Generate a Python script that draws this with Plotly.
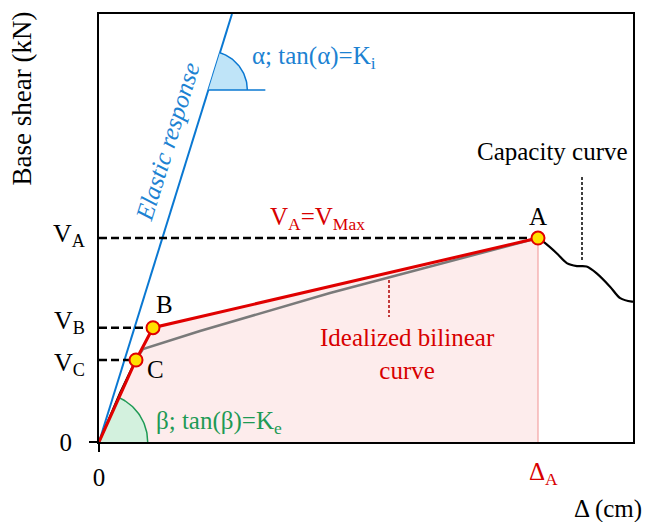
import numpy as np
import plotly.graph_objects as go

# ---------------- data (arbitrary units 0..100) ----------------
bilinear_x = [0, 6.93, 10.11, 82.21]          # O, C, B, A
bilinear_y = [0, 19.16, 26.71, 47.66]
point_names = ["C", "B", "A"]

capacity_x = [0, 2.06, 3.93, 5.81, 7.12, 8.24, 18.91, 28.28, 37.64, 43.26, 56.37, 65.73,
              75.09, 82.21, 83.5, 85.7, 87.6, 89.5, 91.3, 93.2, 95.7, 97.6, 99.8, 100]
capacity_y = [0, 6.07, 11.45, 16.36, 19.63, 21.73, 25.93, 29.32, 32.71, 34.81, 39.14, 42.22,
              45.33, 47.66, 46.5, 44.1, 41.8, 41.1, 41.0, 39.4, 36.3, 33.6, 32.8, 32.8]
cap_black_end = 4      # capacity curve drawn black up to this index
cap_peak = 13          # index of point A on the capacity curve

elastic_x = [0, 24.9]
elastic_y = [0, 100]

alpha_vertex_y = 82.24
y_tick_names = ["V<sub>C</sub>", "V<sub>B</sub>", "V<sub>A</sub>"]

# ---------------- layout constants ----------------
W, H = 649, 522
ML, MR, MT, MB = 99, 16, 14, 80
PW, PH = W - ML - MR, H - MT - MB
sx, sy = PW / 100.0, PH / 100.0

FONT = "Liberation Serif"
FS = 25
RED = "#E00000"
RED_T = "#D80000"
BLUE = "#0A78D2"
BLUE_T = "#1C82D2"
GREEN = "#1E9A55"
BLACK = "#000000"


def px2x(px):
    return (px - ML) / sx


def py2y(py):
    return (MT + PH - py) / sy


def px2p(px):
    return (px - ML) / PW


def py2p(py):
    return (MT + PH - py) / PH


def sector(cx, cy, r, a0, a1, n=40):
    th = np.linspace(a0, a1, n)
    return cx + r * np.cos(th) / sx, cy + r * np.sin(th) / sy


fig = go.Figure()

# pink area under idealized curve
fig.add_trace(go.Scatter(x=bilinear_x, y=bilinear_y, mode="lines", fill="tozeroy",
                         fillcolor="rgba(250,200,200,0.35)", line=dict(width=0),
                         hoverinfo="skip", showlegend=False))
# thin vertical at Delta_A
fig.add_trace(go.Scatter(x=[bilinear_x[3], bilinear_x[3]], y=[0, bilinear_y[3]], mode="lines",
                         line=dict(color="#F3A3A3", width=1.2), showlegend=False))

# beta sector (green)
b_ang = np.arctan2(bilinear_y[1] * sy, bilinear_x[1] * sx)
bx, by = sector(0, 0, 48.7, 0, b_ang)
fig.add_trace(go.Scatter(x=np.r_[0, bx, 0], y=np.r_[0, by, 0], mode="lines", fill="toself",
                         fillcolor="#D3F1DE", line=dict(width=0), showlegend=False))
fig.add_trace(go.Scatter(x=bx, y=by, mode="lines", line=dict(color=GREEN, width=1.5),
                         showlegend=False))

# elastic response line
fig.add_trace(go.Scatter(x=elastic_x, y=elastic_y, mode="lines",
                         line=dict(color=BLUE, width=2), showlegend=False))

# alpha sector (blue)
a_ang = np.arctan2(elastic_y[1] * sy, elastic_x[1] * sx)
avx = alpha_vertex_y * elastic_x[1] / elastic_y[1]
ax_, ay_ = sector(avx, alpha_vertex_y, 39, 0, a_ang)
fig.add_trace(go.Scatter(x=np.r_[avx, ax_, avx], y=np.r_[alpha_vertex_y, ay_, alpha_vertex_y],
                         mode="lines", fill="toself", fillcolor="#BFE4F8", line=dict(width=0),
                         showlegend=False))
fig.add_trace(go.Scatter(x=ax_, y=ay_, mode="lines", line=dict(color=BLUE, width=1.5),
                         showlegend=False))
fig.add_trace(go.Scatter(x=[avx, avx + 57 / sx], y=[alpha_vertex_y, alpha_vertex_y], mode="lines",
                         line=dict(color=BLUE, width=1.5), showlegend=False))

# dashed reference lines V_C, V_B, V_A
for i in (1, 2, 3):
    fig.add_trace(go.Scatter(x=[0, bilinear_x[i]], y=[bilinear_y[i], bilinear_y[i]], mode="lines",
                             line=dict(color=BLACK, width=2.5, dash="8px,4px"), showlegend=False))

# capacity curve
fig.add_trace(go.Scatter(x=capacity_x[:cap_black_end + 1], y=capacity_y[:cap_black_end + 1],
                         mode="lines", line=dict(color=BLACK, width=2), showlegend=False))
fig.add_trace(go.Scatter(x=capacity_x[cap_black_end:cap_peak + 1], y=capacity_y[cap_black_end:cap_peak + 1],
                         mode="lines", line=dict(color="#7A7A7A", width=2.5), showlegend=False))
fig.add_trace(go.Scatter(x=capacity_x[cap_peak:], y=capacity_y[cap_peak:], mode="lines",
                         line=dict(color=BLACK, width=2.2, shape="spline", smoothing=0.8),
                         showlegend=False))

# idealized bilinear curve
fig.add_trace(go.Scatter(x=bilinear_x, y=bilinear_y, mode="lines",
                         line=dict(color=RED, width=3), showlegend=False))
fig.add_trace(go.Scatter(x=bilinear_x[1:], y=bilinear_y[1:], mode="markers",
                         marker=dict(size=13, color="#FFE000", line=dict(color=RED, width=2)),
                         showlegend=False))

# leader lines
fig.add_trace(go.Scatter(x=[px2x(582), px2x(582)], y=[py2y(177), py2y(262)], mode="lines",
                         line=dict(color=BLACK, width=1.5, dash="3px,2px"), showlegend=False))
fig.add_trace(go.Scatter(x=[px2x(389), px2x(389)], y=[py2y(280), py2y(317)], mode="lines",
                         line=dict(color="#B00000", width=1.5, dash="3px,2px"), showlegend=False))

ann = []


def A(x, y, text, color=BLACK, xanchor="center", yanchor="middle", size=FS, angle=0, italic=False,
      align="center", ref="data"):
    xr, yr = ("x", "y") if ref == "data" else ("paper", "paper")
    ann.append(dict(x=x, y=y, xref=xr, yref=yr, text=("<i>%s</i>" % text) if italic else text,
                    showarrow=False, xanchor=xanchor, yanchor=yanchor, textangle=angle, align=align,
                    font=dict(family=FONT, size=size, color=color)))


A(px2x(250), py2y(57), "α; tan(α)=K<sub>i</sub>", BLUE_T, xanchor="left")
A(px2x(167.5), py2y(141.5), "Elastic response", BLUE_T, angle=-np.degrees(a_ang), italic=True)
A(px2x(317), py2y(218), "V<sub>A</sub>=V<sub>Max</sub>", RED_T)
A(px2x(538), py2y(216), point_names[2])
A(px2x(164), py2y(304), point_names[1])
A(px2x(155.5), py2y(369), point_names[0])
A(px2x(407), py2y(354), "Idealized bilinear<br>curve", RED_T)
A(px2x(552), py2y(151), "Capacity curve")
A(px2x(154), py2y(422), "β; tan(β)=K<sub>e</sub>", GREEN, xanchor="left")
# y tick names (outside the plot -> paper coordinates)
for nm, yv, dy in zip(y_tick_names, bilinear_y[1:], (-4.5, 6, 3)):
    A(px2p(87), (yv * sy + dy) / PH, nm, xanchor="right", ref="paper", size=26)
A(px2p(527), py2p(473), "Δ<sub>A</sub>", RED_T, xanchor="left", ref="paper")
A(px2p(644), py2p(509), "Δ (cm)", xanchor="right", ref="paper", size=25)
A(px2p(22), py2p(98.5), "Base shear (kN)", angle=-90, ref="paper", size=27)

fig.update_layout(
    width=W, height=H, margin=dict(l=ML, r=MR, t=MT, b=MB, pad=0),
    paper_bgcolor="white", plot_bgcolor="white", showlegend=False,
    annotations=ann,
    xaxis=dict(range=[0, 100], showgrid=False, zeroline=False, showline=True, mirror=True,
               linecolor=BLACK, linewidth=2, tickvals=[0], ticktext=["0"], ticks="outside",
               ticklen=8, tickwidth=2, tickcolor=BLACK, ticklabelstandoff=4,
               tickfont=dict(family=FONT, size=FS, color=BLACK)),
    yaxis=dict(range=[0, 100], showgrid=False, zeroline=False, showline=True, mirror=True,
               linecolor=BLACK, linewidth=2, tickvals=[0], ticktext=["0"], ticks="outside",
               ticklen=8, tickwidth=2, tickcolor=BLACK, ticklabelstandoff=12,
               tickfont=dict(family=FONT, size=FS, color=BLACK)),
)
fig.write_html("out.html")
